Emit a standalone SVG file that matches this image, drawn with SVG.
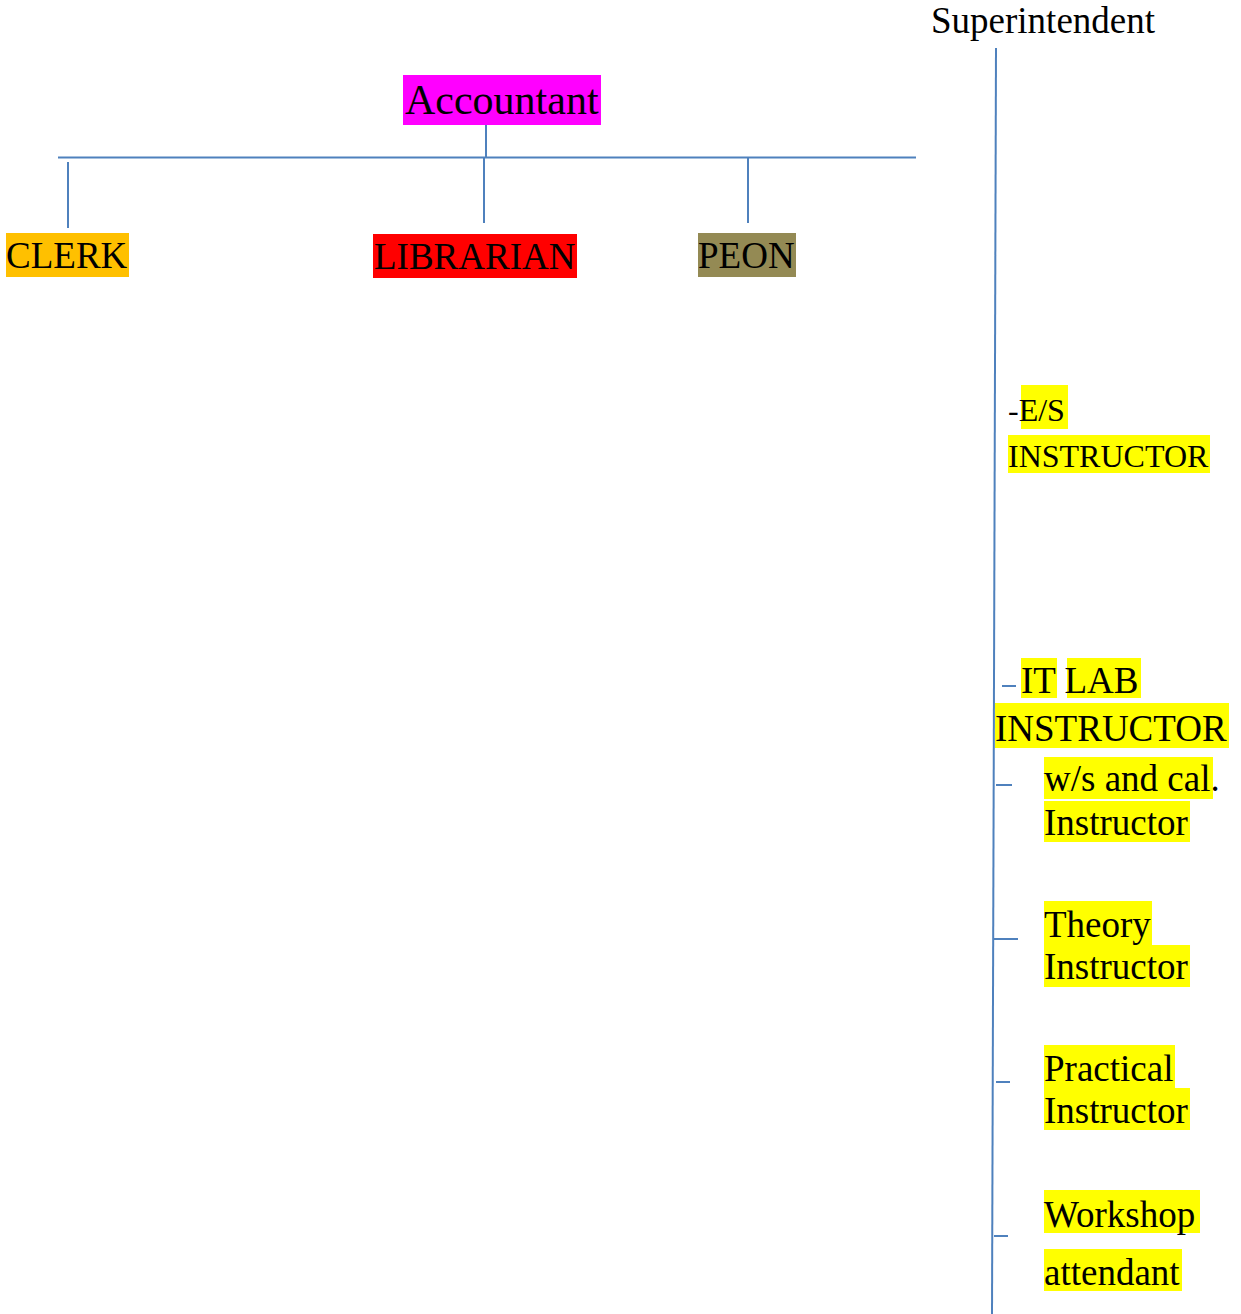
<svg xmlns="http://www.w3.org/2000/svg" width="1241" height="1314" viewBox="0 0 1241 1314">
<style>
text{font-family:"Liberation Serif","Times New Roman",serif;fill:#000}
.t37{font-size:37px}
.t32{font-size:32px}
.t42{font-size:42px}
.c{stroke:#4F81BD;stroke-width:2;fill:none}
.y{fill:#FFFF00}
</style>
<rect width="1241" height="1314" fill="#fff"/>
<g id="connectors">
<line class="c" x1="486" y1="125" x2="486" y2="157"/>
<line class="c" x1="58" y1="157.5" x2="916" y2="157.5"/>
<line class="c" x1="68" y1="162" x2="68" y2="228"/>
<line class="c" x1="484" y1="157" x2="484" y2="223"/>
<line class="c" x1="748" y1="157" x2="748" y2="223"/>
<line class="c" x1="996" y1="48" x2="992" y2="1314"/>
<line class="c" x1="1002" y1="686" x2="1016" y2="686"/>
<line class="c" x1="996" y1="785" x2="1012" y2="785"/>
<line class="c" x1="994" y1="939" x2="1018" y2="939"/>
<line class="c" x1="996" y1="1082" x2="1010" y2="1082"/>
<line class="c" x1="994" y1="1236" x2="1008" y2="1236"/>
</g>
<g id="superintendent">
<text class="t37" x="931" y="33">Superintendent</text>
</g>
<g id="accountant">
<rect x="403" y="75" width="198" height="50" fill="#FF00FF"/>
<text class="t42" x="405" y="114">Accountant</text>
</g>
<g id="clerk">
<rect x="6" y="233" width="123" height="44" fill="#FFC000"/>
<text class="t37" x="6" y="268">CLERK</text>
</g>
<g id="librarian">
<rect x="373" y="234" width="204" height="44" fill="#FF0000"/>
<text class="t37" x="374" y="269">LIBRARIAN</text>
</g>
<g id="peon">
<rect x="698" y="233" width="98" height="44" fill="#948A54"/>
<text class="t37" x="698" y="268">PEON</text>
</g>
<g id="es-instructor">
<rect class="y" x="1021" y="385" width="47" height="44"/>
<rect class="y" x="1008" y="435" width="202" height="38"/>
<text class="t32" x="1008" y="421">-E/S</text>
<text class="t32" x="1008" y="467">INSTRUCTOR</text>
</g>
<g id="it-lab-instructor">
<rect class="y" x="1021" y="658" width="36" height="40"/>
<rect class="y" x="1067" y="658" width="74" height="40"/>
<rect class="y" x="995" y="703" width="234" height="45"/>
<text class="t37" x="1021" y="693">IT LAB</text>
<text class="t37" x="995" y="741">INSTRUCTOR</text>
</g>
<g id="ws-cal-instructor">
<rect class="y" x="1044" y="757" width="169" height="42"/>
<rect class="y" x="1044" y="801" width="146" height="41"/>
<text class="t37" x="1044" y="791">w/s and cal.</text>
<text class="t37" x="1044" y="835">Instructor</text>
</g>
<g id="theory-instructor">
<rect class="y" x="1044" y="901" width="108" height="44"/>
<rect class="y" x="1044" y="945" width="146" height="42"/>
<text class="t37" x="1044" y="937">Theory</text>
<text class="t37" x="1044" y="979">Instructor</text>
</g>
<g id="practical-instructor">
<rect class="y" x="1044" y="1045" width="131" height="43"/>
<rect class="y" x="1044" y="1088" width="146" height="42"/>
<text class="t37" x="1044" y="1081">Practical</text>
<text class="t37" x="1044" y="1123">Instructor</text>
</g>
<g id="workshop-attendant">
<rect class="y" x="1044" y="1190" width="156" height="43"/>
<rect class="y" x="1044" y="1249" width="138" height="42"/>
<text class="t37" x="1044" y="1227">Workshop</text>
<text class="t37" x="1044" y="1285">attendant</text>
</g>
</svg>
